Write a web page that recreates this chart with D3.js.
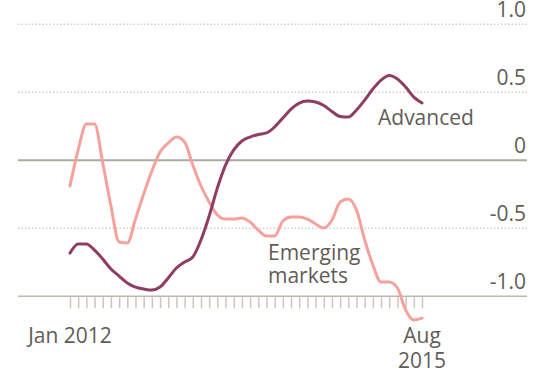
<!DOCTYPE html>
<html>
<head>
<meta charset="utf-8">
<script src="https://cdn.jsdelivr.net/npm/d3@7/dist/d3.min.js"></script>
<style>
  html, body { margin: 0; padding: 0; background: #ffffff; }
  svg { display: block; }
  text { font-family: "Open Sans", "DejaVu Sans", sans-serif; fill: #625c57; }
</style>
</head>
<body>
<svg id="chart" width="543" height="380"></svg>
<script>
// ---- data ----
const months = d3.timeMonth.range(new Date(2012, 0, 1), new Date(2015, 8, 1)); // Jan 2012 .. Aug 2015
const advanced = [
  -0.682, -0.615, -0.615, -0.660, -0.726, -0.799, -0.851, -0.902, -0.932, -0.946,
  -0.954, -0.932, -0.865, -0.792, -0.748, -0.711, -0.586, -0.410, -0.204, -0.035,
   0.076,  0.142,  0.171,  0.190,  0.201,  0.245,  0.311,  0.377,  0.421,  0.436,
   0.429,  0.403,  0.359,  0.322,  0.318,  0.370,  0.443,  0.524,  0.590,  0.624,
   0.598,  0.539,  0.465,  0.421
];
const emerging = [
  -0.189,  0.076,  0.267,  0.267, -0.020, -0.336, -0.601, -0.609, -0.432, -0.248,
  -0.079,  0.061,  0.127,  0.171,  0.135, -0.035, -0.189, -0.307, -0.402, -0.432,
  -0.432, -0.424, -0.454, -0.513, -0.557, -0.557, -0.446, -0.417, -0.417, -0.432,
  -0.468, -0.498, -0.439, -0.307, -0.285, -0.366, -0.586, -0.770, -0.895, -0.895,
  -0.939, -1.101, -1.174, -1.160
];
const yTicks = [1.0, 0.5, 0, -0.5, -1.0];
const yTickLabels = ["1.0", "0.5", "0", "-0.5", "-1.0"];
const xLabelStart = ["Jan 2012"];
const xLabelEnd = ["Aug", "2015"];
const seriesLabels = { advanced: ["Advanced"], emerging: ["Emerging", "markets"] };

// ---- layout ----
const svg = d3.select("#chart");
const gridLeft = 18, gridRight = 527;
const x = d3.scalePoint().domain(months.map(d => +d)).range([70, 422]);
const y = d3.scaleLinear().domain([-1, 1]).range([296.3, 24.3]);

// gridlines
const grid = svg.append("g");
yTicks.forEach(v => {
  const solid = (v === 0 || v === -1);
  grid.append("line")
    .attr("x1", gridLeft).attr("x2", gridRight)
    .attr("y1", y(v)).attr("y2", y(v))
    .attr("stroke", v === 0 ? "#aaaa9f" : (v === -1 ? "#bbb7ab" : "#d6cdc1"))
    .attr("stroke-width", v === 0 ? 2 : 1.5)
    .attr("stroke-dasharray", solid ? null : "1.5,2");
});

// y labels (right)
svg.append("g").selectAll("text").data(yTicks).join("text")
  .attr("x", 526).attr("y", v => y(v) - 7)
  .attr("text-anchor", "end")
  .attr("font-size", 21)
  .text((v, i) => yTickLabels[i]);

// x ticks via d3 axis
const xAxis = d3.axisBottom(x).tickSize(11).tickFormat("");
const ax = svg.append("g").attr("transform", `translate(0,${y(-1) + 1})`).call(xAxis);
ax.select(".domain").remove();
ax.selectAll(".tick line").attr("stroke", "#cec5b9").attr("stroke-width", 1.5);

// lines
const line = d3.line()
  .x((d, i) => x(+months[i]))
  .y(d => y(d))
  .curve(d3.curveMonotoneX);

svg.append("path").datum(emerging)
  .attr("fill", "none").attr("stroke", "#f5a19c").attr("stroke-width", 3)
  .attr("stroke-linejoin", "round").attr("stroke-linecap", "round")
  .attr("d", line);

svg.append("path").datum(advanced)
  .attr("fill", "none").attr("stroke", "#903d63").attr("stroke-width", 3)
  .attr("stroke-linejoin", "round").attr("stroke-linecap", "round")
  .attr("d", line);

// x labels
const xs = x(+months[0]), xe = x(+months[months.length - 1]);
svg.append("text").attr("x", xs).attr("y", 343).attr("text-anchor", "middle")
  .attr("font-size", 21).text(xLabelStart[0]);
const endLbl = svg.append("text").attr("text-anchor", "middle").attr("font-size", 21);
endLbl.selectAll("tspan").data(xLabelEnd).join("tspan")
  .attr("x", xe).attr("y", (d, i) => 343 + i * 25).text(d => d);

// series labels
svg.append("text").attr("x", 378).attr("y", 125).attr("font-size", 21)
  .text(seriesLabels.advanced[0]);
const emLbl = svg.append("text").attr("font-size", 21);
emLbl.selectAll("tspan").data(seriesLabels.emerging).join("tspan")
  .attr("x", 268).attr("y", (d, i) => 260 + i * 23).text(d => d);
</script>
</body>
</html>
